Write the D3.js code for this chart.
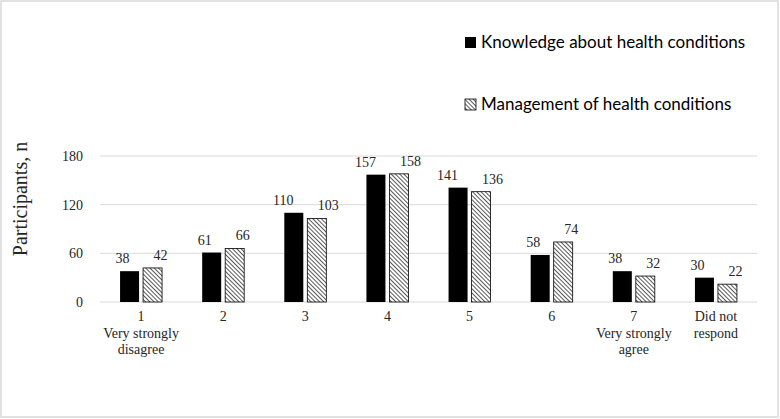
<!DOCTYPE html>
<html><head><meta charset="utf-8">
<script src="https://cdn.jsdelivr.net/npm/d3@7"></script>
<style>body{margin:0;background:#fff}svg{display:block}</style>
</head><body>
<svg id="c" width="780" height="419"></svg>
<script>
const categories = ["1|Very strongly|disagree","2","3","4","5","6","7|Very strongly|agree","Did not|respond"];
const knowledge = [38,61,110,157,141,58,38,30];
const management = [42,66,103,158,136,74,32,22];
const seriesNames = ["Knowledge about health conditions","Management of health conditions"];
const yTicks = [0,60,120,180];

const svg = d3.select("#c");
svg.append("rect").attr("x",1).attr("y",1).attr("width",777).attr("height",416)
  .attr("fill","#fff").attr("stroke","#d9d9d9").attr("stroke-width",1.5);

const defs = svg.append("defs");
const pat = defs.append("pattern").attr("id","hatch").attr("patternUnits","userSpaceOnUse")
  .attr("width",3).attr("height",3).attr("patternTransform","rotate(-45)");
pat.append("rect").attr("width",3).attr("height",3).attr("fill","#fff");
pat.append("line").attr("x1",0).attr("y1",0).attr("x2",0).attr("y2",3).attr("stroke","#000").attr("stroke-width",1.3);

const L=100,R=757,T=156,B=302;
const x = d3.scaleBand().domain(d3.range(categories.length)).range([L,R]);
const y = d3.scaleLinear().domain([0,180]).range([B,T]);
const txt="#262626";

const g = svg.append("g");
g.selectAll("line.grid").data(yTicks).join("line").attr("class","grid")
  .attr("x1",L).attr("x2",R).attr("y1",d=>y(d)).attr("y2",d=>y(d))
  .attr("stroke","#d9d9d9").attr("stroke-width",1);
g.selectAll("text.yt").data(yTicks).join("text").attr("class","yt")
  .attr("x",83).attr("y",d=>y(d)+5).attr("text-anchor","end")
  .attr("font-family","Liberation Serif").attr("font-size",14).attr("fill",txt).text(d=>d);

const bw=19, gap=4;
const sets=[{vals:knowledge,fill:"#000",off:-bw-gap/2,dir:-1},{vals:management,fill:"url(#hatch)",off:gap/2,dir:1}];
sets.forEach(s=>{
  g.append("g").selectAll("rect").data(s.vals).join("rect")
    .attr("x",(d,i)=>x(i)+x.bandwidth()/2+s.off).attr("width",bw)
    .attr("y",d=>y(d)).attr("height",d=>B-y(d))
    .attr("fill",s.fill).attr("stroke","#000").attr("stroke-width",s.fill==="#000"?0:0.8);
  g.append("g").selectAll("text").data(s.vals).join("text")
    .attr("x",(d,i)=>x(i)+x.bandwidth()/2+s.off+bw/2+s.dir*(String(d).length*3.5+(s.dir>0?1:0)))
    .attr("y",d=>y(d)-8)
    .attr("text-anchor","middle").attr("font-family","Liberation Serif").attr("font-size",14)
    .attr("fill",txt).text(d=>d);
});

categories.forEach((c,i)=>{
  const t=g.append("text").attr("text-anchor","middle").attr("font-family","Liberation Serif")
    .attr("font-size",14).attr("fill",txt);
  c.split("|").forEach((ln,j)=>{
    t.append("tspan").attr("x",x(i)+x.bandwidth()/2).attr("y",321+j*16.5).text(ln);
  });
});

svg.append("text").attr("transform","translate(27,199) rotate(-90)").attr("text-anchor","middle")
  .attr("font-family","Liberation Serif").attr("font-size",20).attr("fill",txt).text("Participants, n");

const leg=[{y:42,fill:"#000"},{y:104,fill:"url(#hatch)"}];
leg.forEach((l,i)=>{
  svg.append("rect").attr("x",465).attr("y",l.y-5).attr("width",11).attr("height",11)
    .attr("fill",l.fill).attr("stroke","#000").attr("stroke-width",i?0.8:0);
  svg.append("text").attr("x",481).attr("y",l.y+6).attr("font-family","Lato").attr("font-size",17)
    .attr("fill","#000").text(seriesNames[i]);
});
</script>
</body></html>
